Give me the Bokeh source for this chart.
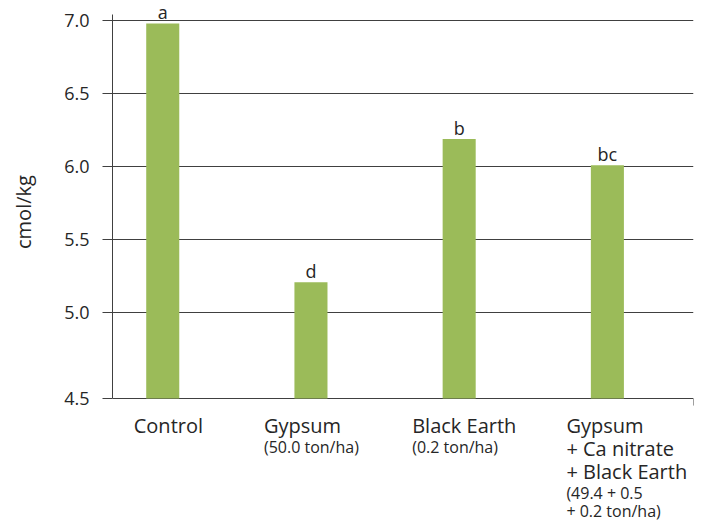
from bokeh.plotting import figure
from bokeh.models import Range1d, FixedTicker, Label, NumeralTickFormatter
from bokeh.embed import file_html
from bokeh.resources import INLINE

# ---- data ----
categories = ["Control", "Gypsum", "Black Earth", "Gypsum\n+ Ca nitrate\n+ Black Earth"]
doses = ["", "(50.0 ton/ha)", "(0.2 ton/ha)", "(49.4 + 0.5\n+ 0.2 ton/ha)"]
values = [6.98, 5.21, 6.19, 6.01]
letters = ["a", "d", "b", "bc"]
grid_ticks = [5.0, 5.5, 6.0, 6.5, 7.0]
bottom_tick_label = "4.5"
y_axis_label = "cmol/kg"

# ---- layout / style ----
W, H = 707, 527
y_min, y_top = 4.414, 7.0          # visible axis extent
px_per_unit = 146.2
y_end = y_top + 20 / px_per_unit
y_start = y_end - H / px_per_unit
x_start, x_end = -0.339, 3.581
bar_width = 0.223
label_dx = [-29, -47, -47, -41]      # px offset of label block from bar centre
main_first, main_step = 102, 23.2    # baseline px above canvas bottom
sub_gap, sub_step = 21.5, 18
TEXT = "#262626"
LINE = "#404040"
FONT = "Open Sans"

x = list(range(len(categories)))

p = figure(width=W, height=H, output_backend="svg", toolbar_location=None,
           x_range=Range1d(x_start, x_end), y_range=Range1d(y_start, y_end),
           x_axis_location=None,
           min_border_left=112, min_border_right=W - 112 - 581,
           min_border_top=0, min_border_bottom=0)
p.outline_line_color = None
p.background_fill_color = "white"

p.vbar(x=x, top=values, bottom=y_min, width=bar_width,
       fill_color="#9BBB59", line_color=None)

# y axis (limited to the value extent)
yax = p.yaxis[0]
yax.bounds = (y_min, y_top + 0.04)
yax.ticker = FixedTicker(ticks=[y_min] + grid_ticks)
yax.formatter = NumeralTickFormatter(format="0.0")
yax.major_label_overrides = {y_min: bottom_tick_label}
yax.major_tick_out = 10
yax.major_tick_in = 0
yax.minor_tick_line_color = None
yax.axis_line_color = LINE
yax.major_tick_line_color = LINE
yax.major_label_text_font = FONT
yax.major_label_text_font_size = "18px"
yax.major_label_text_color = TEXT
yax.major_label_standoff = 13
# leading no-break spaces move the centred title up to the middle of the value axis
yax.axis_label = "\u00a0" * 20 + y_axis_label
yax.axis_label_text_font = FONT
yax.axis_label_text_font_size = "20px"
yax.axis_label_text_font_style = "normal"
yax.axis_label_text_color = TEXT
yax.axis_label_standoff = 24

# grid; the line at the bottom value acts as the category axis line
p.xgrid.visible = False
p.ygrid.ticker = FixedTicker(ticks=[y_min] + grid_ticks)
p.ygrid.grid_line_color = LINE
p.ygrid.grid_line_width = 1

# end tick of the category axis
p.segment(x0=[x_end], y0=[y_min], x1=[x_end], y1=[y_min - 7 / px_per_unit],
          line_color=LINE, line_width=1)

# category labels
for i, (cat, dose) in enumerate(zip(categories, doses)):
    off = main_first
    for j, line in enumerate(cat.split("\n")):
        off = main_first - j * main_step
        p.add_layout(Label(x=x[i], y=off, y_units="screen", x_offset=label_dx[i],
                           text=line, text_font=FONT, text_font_size="20px",
                           text_color=TEXT, text_align="left",
                           text_baseline="alphabetic"))
    if dose:
        for k, line in enumerate(dose.split("\n")):
            o = off - sub_gap - k * sub_step
            p.add_layout(Label(x=x[i], y=o, y_units="screen", x_offset=label_dx[i],
                               text=line, text_font=FONT, text_font_size="16px",
                               text_color=TEXT, text_align="left",
                               text_baseline="alphabetic"))

# significance letters
for i, (v, l) in enumerate(zip(values, letters)):
    p.add_layout(Label(x=x[i], y=v, y_offset=11, text=l, text_font=FONT,
                       text_font_size="18px", text_color=TEXT,
                       text_align="center", text_baseline="alphabetic"))

open("out.html", "w").write(file_html(p, INLINE))
